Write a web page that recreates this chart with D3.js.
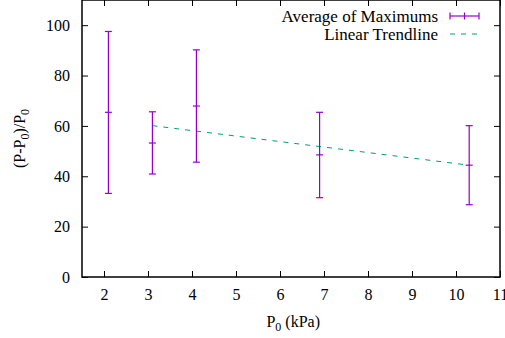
<!DOCTYPE html>
<html>
<head>
<meta charset="utf-8">
<script src="https://cdn.jsdelivr.net/npm/d3@7"></script>
<style>
  body { margin: 0; background: #fff; }
  svg text { fill: #000; }
</style>
</head>
<body>
<svg id="chart"></svg>
<script>
// data
var pressures = [2.1, 3.1, 4.1, 6.9, 10.3];
var averages  = [65.4, 53.2, 67.9, 48.5, 44.4];
var lows      = [33.2, 40.9, 45.6, 31.5, 28.7];
var highs     = [97.5, 65.6, 90.2, 65.4, 60.1];
var trendX    = [3.1, 10.3];
var trendY    = [60.1, 44.4];
var xTicks    = [2, 3, 4, 5, 6, 7, 8, 9, 10, 11];
var yTicks    = [0, 20, 40, 60, 80, 100];

var width = 505, height = 338;
var margin = {top: 0, right: 5, bottom: 61, left: 82};
var w = width - margin.left - margin.right,
    h = height - margin.top - margin.bottom;

var purple = "#9400d3", green = "#009e73";
var serif = "'Liberation Serif', 'Times New Roman', Times, 'DejaVu Serif', serif";

var svg = d3.select("#chart")
    .attr("width", width)
    .attr("height", height);

var g = svg.append("g")
    .attr("transform", "translate(" + margin.left + "," + margin.top + ")");

var x = d3.scaleLinear().domain([1.5, 11]).range([0, w]);
var y = d3.scaleLinear().domain([0, 110]).range([h, 0]);

// axes, ticks on all four sides like gnuplot
function styleAxis(sel) {
    sel.attr("font-family", serif).attr("font-size", 16);
    sel.select(".domain").remove();
    sel.selectAll(".tick line").attr("stroke", "#000");
}

g.append("g")
    .attr("transform", "translate(0," + h + ")")
    .call(d3.axisBottom(x).tickValues(xTicks).tickSize(-6).tickPadding(12).tickFormat(d3.format("d")))
    .call(styleAxis);
g.append("g")
    .call(d3.axisTop(x).tickValues(xTicks).tickSize(-6).tickFormat(""))
    .call(styleAxis);
g.append("g")
    .call(d3.axisLeft(y).tickValues(yTicks).tickSize(-6).tickPadding(12).tickFormat(d3.format("d")))
    .call(styleAxis);
g.append("g")
    .attr("transform", "translate(" + w + ",0)")
    .call(d3.axisRight(y).tickValues(yTicks).tickSize(-6).tickFormat(""))
    .call(styleAxis);

// frame
g.append("rect")
    .attr("width", w).attr("height", h)
    .attr("fill", "none").attr("stroke", "#000").attr("stroke-width", 1.5);

// trendline
g.append("path")
    .datum(d3.range(trendX.length))
    .attr("fill", "none")
    .attr("stroke", green)
    .attr("stroke-width", 1)
    .attr("stroke-dasharray", "5,6")
    .attr("d", d3.line().x(function(i) { return x(trendX[i]); }).y(function(i) { return y(trendY[i]); }));

// error bars
var cap = 3.5;
var bars = g.selectAll(".err")
    .data(d3.range(pressures.length))
    .join("g")
    .attr("stroke", purple)
    .attr("stroke-width", 1.2);

bars.append("line")
    .attr("x1", function(i) { return x(pressures[i]); })
    .attr("x2", function(i) { return x(pressures[i]); })
    .attr("y1", function(i) { return y(lows[i]); })
    .attr("y2", function(i) { return y(highs[i]); });
[lows, highs, averages].forEach(function(arr) {
    bars.append("line")
        .attr("x1", function(i) { return x(pressures[i]) - cap; })
        .attr("x2", function(i) { return x(pressures[i]) + cap; })
        .attr("y1", function(i) { return y(arr[i]); })
        .attr("y2", function(i) { return y(arr[i]); });
});

// legend
var legend = svg.append("g").attr("font-family", serif).attr("font-size", 17);
legend.append("text")
    .attr("x", 438).attr("y", 22)
    .attr("text-anchor", "end")
    .text("Average of Maximums");
legend.append("line")
    .attr("x1", 450).attr("x2", 479).attr("y1", 16).attr("y2", 16)
    .attr("stroke", purple).attr("stroke-width", 1.2);
[450, 479, 464.5].forEach(function(px) {
    legend.append("line")
        .attr("x1", px).attr("x2", px).attr("y1", 12.5).attr("y2", 19.5)
        .attr("stroke", purple).attr("stroke-width", 1.2);
});
legend.append("text")
    .attr("x", 438).attr("y", 40)
    .attr("text-anchor", "end")
    .text("Linear Trendline");
legend.append("line")
    .attr("x1", 450).attr("x2", 479).attr("y1", 34).attr("y2", 34)
    .attr("stroke", green).attr("stroke-width", 1)
    .attr("stroke-dasharray", "5,6");

// axis titles
var xl = svg.append("text")
    .attr("x", margin.left + x(6.3)).attr("y", 327)
    .attr("text-anchor", "middle")
    .attr("font-family", serif).attr("font-size", 16);
xl.append("tspan").text("P");
xl.append("tspan").attr("dy", 4).attr("font-size", 12).text("0");
xl.append("tspan").attr("dy", -4).text(" (kPa)");

var yl = svg.append("text")
    .attr("transform", "translate(25," + (margin.top + h / 2) + ") rotate(-90)")
    .attr("text-anchor", "middle")
    .attr("font-family", serif).attr("font-size", 16);
yl.append("tspan").text("(P-P");
yl.append("tspan").attr("dy", 4).attr("font-size", 12).text("0");
yl.append("tspan").attr("dy", -4).text(")/P");
yl.append("tspan").attr("dy", 4).attr("font-size", 12).text("0");
</script>
</body>
</html>
